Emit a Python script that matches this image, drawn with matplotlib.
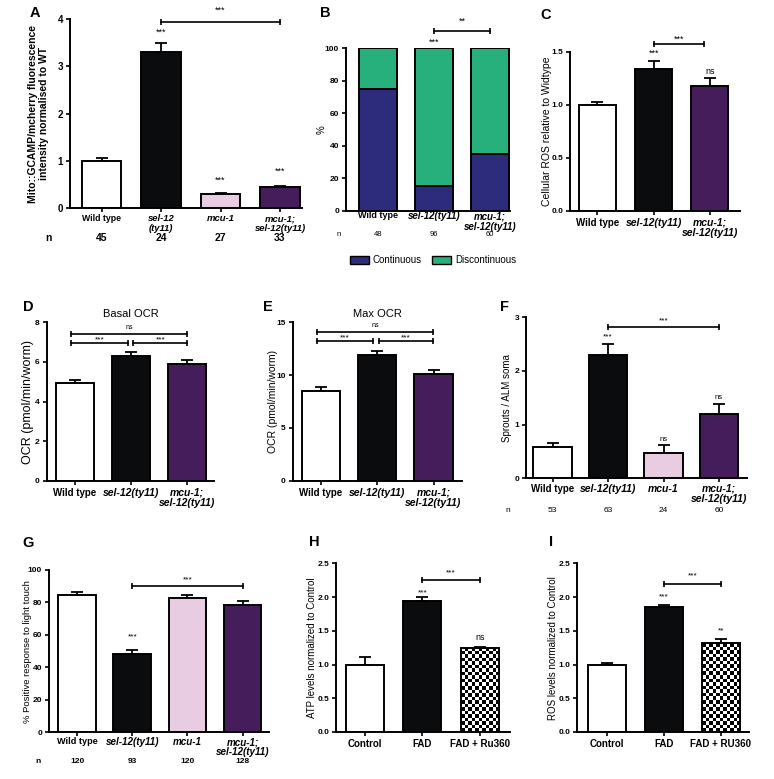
import matplotlib
matplotlib.use('Agg')
import matplotlib.pyplot as plt
import numpy as np
from matplotlib.patches import Patch

plt.rcParams['font.family'] = ['Liberation Sans', 'DejaVu Sans']
plt.rcParams['axes.linewidth'] = 1.4

W, H = 774, 779
fig = plt.figure(figsize=(W / 100, H / 100), dpi=100)

# ---------------- data ----------------
A_labels = ['Wild type', 'sel-12\n(ty11)', 'mcu-1', 'mcu-1;\nsel-12(ty11)']
A_values = [1.0, 3.3, 0.3, 0.45]
A_err = [0.06, 0.2, 0.02, 0.02]
A_n = [45, 24, 27, 33]

B_labels = ['Wild type', 'sel-12(ty11)', 'mcu-1;\nsel-12(ty11)']
B_continuous = [75, 15, 35]
B_discontinuous = [25, 85, 65]
B_n = [48, 96, 60]

C_labels = ['Wild type', 'sel-12(ty11)', 'mcu-1;\nsel-12(ty11)']
C_values = [1.0, 1.34, 1.18]
C_err = [0.03, 0.07, 0.07]

D_labels = ['Wild type', 'sel-12(ty11)', 'mcu-1;\nsel-12(ty11)']
D_values = [4.92, 6.31, 5.9]
D_err = [0.17, 0.17, 0.2]

E_labels = ['Wild type', 'sel-12(ty11)', 'mcu-1;\nsel-12(ty11)']
E_values = [8.52, 11.9, 10.07]
E_err = [0.32, 0.41, 0.41]

F_labels = ['Wild type', 'sel-12(ty11)', 'mcu-1', 'mcu-1;\nsel-12(ty11)']
F_values = [0.58, 2.3, 0.48, 1.19]
F_err = [0.07, 0.2, 0.14, 0.2]
F_n = [53, 63, 24, 60]

G_labels = ['Wild type', 'sel-12(ty11)', 'mcu-1', 'mcu-1;\nsel-12(ty11)']
G_values = [84.8, 48.2, 82.6, 78.6]
G_err = [1.8, 2.7, 1.8, 2.1]
G_n = [120, 93, 120, 128]

H_labels = ['Control', 'FAD', 'FAD + Ru360']
H_values = [1.0, 1.945, 1.245]
H_err = [0.115, 0.055, 0.01]

I_labels = ['Control', 'FAD', 'FAD + RU360']
I_values = [1.0, 1.857, 1.315]
I_err = [0.027, 0.03, 0.063]

# ---------------- style ----------------
WHITE = '#ffffff'
BLACK = '#0b0c0e'
PINK = '#e8cce2'
PURPLE = '#451d5b'
NAVY = '#2d2b7c'
GREEN = '#27b07b'
C4 = [WHITE, BLACK, PINK, PURPLE]
C3 = [WHITE, BLACK, PURPLE]
NARROW = ['Liberation Sans Narrow', 'Liberation Sans', 'DejaVu Sans']


def add_ax(l, t, r, b):
    return fig.add_axes([l / W, 1 - b / H, (r - l) / W, (b - t) / H])


def style(ax, labels, italic, xlim, ylim, yticks, yfmt, tfs=6.5, yfs=6.5,
          ticklen=3, pad=2, ls=1.05):
    ax.spines['top'].set_visible(False)
    ax.spines['right'].set_visible(False)
    ax.set_xlim(*xlim)
    ax.set_ylim(*ylim)
    ax.set_xticks(range(len(labels)))
    ax.set_xticklabels(labels, fontsize=tfs, fontweight='bold')
    for t, it in zip(ax.get_xticklabels(), italic):
        t.set_linespacing(ls)
        if it:
            t.set_style('italic')
            t.set_family(NARROW)
            t.set_fontsize(tfs + 0.5)
    ax.set_yticks(yticks)
    ax.set_yticklabels([yfmt.format(v) for v in yticks], fontsize=yfs,
                       fontweight='bold')
    ax.tick_params(axis='y', direction='out', length=3, width=1.2, pad=2)
    ax.tick_params(axis='x', direction='out', length=ticklen, width=1.2, pad=pad)


def bars(ax, values, errs, colors, width, capsize=4.5):
    x = np.arange(len(values))
    b = ax.bar(x, values, width=width, color=colors, edgecolor='black',
               linewidth=1.4, zorder=2)
    ax.errorbar(x, values, yerr=[np.zeros(len(errs)), errs], fmt='none',
                ecolor='black', elinewidth=1.3, capsize=capsize, capthick=1.3,
                zorder=1)
    return b


def bracket(ax, x0, x1, y, text, ty, fs=6.5):
    ax.plot([x0, x1], [y, y], color='black', lw=1.2, clip_on=False, zorder=3)
    ax.plot([x0, x1], [y, y], ls='none', marker='|', ms=5, mew=1.2,
            color='black', clip_on=False, zorder=3)
    ax.text((x0 + x1) / 2, ty, text, ha='center', va='center', fontsize=fs,
            clip_on=False)


def star(ax, x, y, text, fs=6.5):
    ax.text(x, y, text, ha='center', va='center', fontsize=fs, clip_on=False)


def ylab(ax, text, xfrac, fs=7, bold=False):
    ax.set_ylabel(text, fontsize=fs, fontweight='bold' if bold else 'normal',
                  va='center', ha='center', multialignment='center')
    ax.yaxis.set_label_coords(xfrac, 0.5)


def nrow(ax, ns, yfrac, xn, fs=7, bold=True):
    tr = ax.get_xaxis_transform()
    w = 'bold' if bold else 'normal'
    ax.text(xn, yfrac, 'n', transform=tr, ha='center', va='center',
            fontsize=fs, fontweight=w)
    for i, v in enumerate(ns):
        ax.text(i, yfrac, str(v), transform=tr, ha='center', va='center',
                fontsize=fs, fontweight=w)


def panel_label(x, y, s):
    fig.text(x / W, 1 - y / H, s, fontsize=10.5, fontweight='bold',
             ha='left', va='center')


def checker_bar(ax, x, h, width, nx, ny):
    b = ax.bar(x, h, width=width, color='white', edgecolor='none', zorder=2)[0]
    arr = (np.indices((ny, nx)).sum(axis=0) % 2).astype(float)
    im = ax.imshow(arr, cmap='gray', extent=(x - width / 2, x + width / 2, 0, h),
                   aspect='auto', interpolation='nearest', zorder=2.1,
                   origin='lower')
    im.set_clip_path(b)
    ax.bar(x, h, width=width, fill=False, edgecolor='black', linewidth=1.4,
           zorder=2.2)


# ---------------- Panel A ----------------
ax = add_ax(70, 19.3, 302, 208)
bars(ax, A_values, A_err, C4, 0.67)
style(ax, A_labels, [False, True, True, True], (-0.53, 3.37), (0, 4),
      [0, 1, 2, 3, 4], '{:g}', tfs=6.3, yfs=7, pad=1.5)
ylab(ax, 'Mito::GCAMP/mcherry fluorescence\nintensity normalised to WT', -0.135,
     fs=7.5, bold=True)
bracket(ax, 1, 3, 3.94, '***', 4.19)
star(ax, 1, 3.72, '***')
star(ax, 2, 0.59, '***')
star(ax, 3, 0.77, '***')
nrow(ax, A_n, -0.16, -0.9, fs=7.5)
panel_label(30, 13, 'A')

# ---------------- Panel B ----------------
ax = add_ax(346, 48.3, 510, 210.7)
x = np.arange(len(B_continuous))
ax.bar(x, B_continuous, width=0.68, color=NAVY, edgecolor='black', lw=1.4,
       zorder=2)
ax.bar(x, B_discontinuous, bottom=B_continuous, width=0.68, color=GREEN,
       edgecolor='black', lw=1.4, zorder=2)
style(ax, B_labels, [False, True, True], (-0.57, 2.36), (0, 100),
      [0, 20, 40, 60, 80, 100], '{:g}', tfs=6.5, yfs=6, ticklen=0, pad=0.5)
ylab(ax, '%', -0.146, fs=7)
bracket(ax, 1, 2, 110.8, '**', 116.4)
star(ax, 1, 103.5, '***')
nrow(ax, B_n, -0.148, -0.71, fs=5.5, bold=False)
handles = [Patch(facecolor=NAVY, edgecolor='black', label='Continuous'),
           Patch(facecolor=GREEN, edgecolor='black', label='Discontinuous')]
ax.legend(handles=handles, loc='center', bbox_to_anchor=(0.53, -0.305),
          ncol=2, frameon=False, fontsize=7, handlelength=2.0,
          handleheight=0.8, columnspacing=1.0, handletextpad=0.4,
          borderpad=0, borderaxespad=0)
panel_label(320, 13, 'B')

# ---------------- Panel C ----------------
ax = add_ax(570, 51.7, 740, 210.7)
bars(ax, C_values, C_err, C3, 0.67)
style(ax, C_labels, [False, True, True], (-0.49, 2.54), (0, 1.5),
      [0, 0.5, 1.0, 1.5], '{:.1f}', tfs=7, yfs=6)
ylab(ax, 'Cellular ROS relative to Widtype', -0.135, fs=7.5)
bracket(ax, 1, 1.9, 1.57, '***', 1.62)
star(ax, 1, 1.49, '***')
star(ax, 2, 1.31, 'ns', fs=6.5)
panel_label(540, 15, 'C')

# ---------------- Panel D ----------------
ax = add_ax(46.7, 322.3, 214.3, 480.7)
bars(ax, D_values, D_err, C3, 0.67)
style(ax, D_labels, [False, True, True], (-0.5, 2.48), (0, 8),
      [0, 2, 4, 6, 8], '{:g}', tfs=7, yfs=6)
ylab(ax, 'OCR (pmol/min/worm)', -0.11, fs=9)
ax.set_title('Basal OCR', fontsize=8, pad=4)
bracket(ax, -0.066, 2.0, 7.39, 'ns', 7.72, fs=5)
bracket(ax, -0.066, 0.95, 6.94, '***', 7.12, fs=6)
bracket(ax, 1.04, 2.0, 6.94, '***', 7.12, fs=6)
panel_label(22.5, 306.7, 'D')

# ---------------- Panel E ----------------
ax = add_ax(292.7, 322.3, 461.7, 480.7)
bars(ax, E_values, E_err, C3, 0.68)
style(ax, E_labels, [False, True, True], (-0.5, 2.5), (0, 15),
      [0, 5, 10, 15], '{:g}', tfs=7, yfs=6)
ylab(ax, 'OCR (pmol/min/worm)', -0.118, fs=7.5)
ax.set_title('Max OCR', fontsize=8, pad=4)
bracket(ax, -0.07, 1.99, 14.05, 'ns', 14.65, fs=5)
bracket(ax, -0.07, 0.93, 13.23, '***', 13.55, fs=6)
bracket(ax, 1.04, 1.99, 13.23, '***', 13.55, fs=6)
panel_label(263, 306.7, 'E')

# ---------------- Panel F ----------------
ax = add_ax(526, 317.3, 746.7, 478.3)
bars(ax, F_values, F_err, C4, 0.69)
style(ax, F_labels, [False, True, True, True], (-0.48, 3.5), (0, 3),
      [0, 1, 2, 3], '{:g}', tfs=7, yfs=6, pad=1)
ylab(ax, 'Sprouts / ALM soma', -0.086, fs=7)
bracket(ax, 1, 3, 2.81, '***', 2.94, fs=6)
star(ax, 1, 2.64, '***', fs=6)
star(ax, 2, 0.73, 'ns', fs=5.5)
star(ax, 3, 1.5, 'ns', fs=5.5)
nrow(ax, F_n, -0.2, -0.8, fs=6, bold=False)
panel_label(500, 306.7, 'F')

# ---------------- Panel G ----------------
ax = add_ax(49, 570, 269, 732.3)
bars(ax, G_values, G_err, C4, 0.685)
style(ax, G_labels, [False, True, True, True], (-0.51, 3.48), (0, 100),
      [0, 20, 40, 60, 80, 100], '{:g}', tfs=6.6, yfs=6, pad=0.5, ls=1.0)
ylab(ax, '% Positive response to light touch', -0.097, fs=6.8)
bracket(ax, 1, 3, 90.3, '***', 93.8, fs=6)
star(ax, 1, 58.5, '***', fs=6)
nrow(ax, G_n, -0.182, -0.71, fs=6, bold=True)
panel_label(22, 543, 'G')

# ---------------- Panel H ----------------
ax = add_ax(336, 563.3, 510, 732)
bars(ax, H_values[:2], H_err[:2], [WHITE, BLACK], 0.66)
checker_bar(ax, 2, H_values[2], 0.66, 11, 24)
ax.errorbar([2], [H_values[2]], yerr=[[0], [H_err[2]]], fmt='none',
            ecolor='black', elinewidth=1.3, capsize=4.5, capthick=1.3, zorder=1)
style(ax, H_labels, [False, False, False], (-0.5, 2.52), (0, 2.5),
      [0, 0.5, 1.0, 1.5, 2.0, 2.5], '{:.1f}', tfs=7, yfs=6)
ylab(ax, 'ATP levels normalized to Control', -0.14, fs=7)
bracket(ax, 1, 2, 2.25, '***', 2.36, fs=6)
star(ax, 1, 2.06, '***', fs=6)
star(ax, 2, 1.4, 'ns', fs=6.5)
panel_label(309, 542.5, 'H')

# ---------------- Panel I ----------------
ax = add_ax(577.3, 563.3, 749.3, 732)
bars(ax, I_values[:2], I_err[:2], [WHITE, BLACK], 0.67)
checker_bar(ax, 2, I_values[2], 0.67, 11, 25)
ax.errorbar([2], [I_values[2]], yerr=[[0], [I_err[2]]], fmt='none',
            ecolor='black', elinewidth=1.3, capsize=4.5, capthick=1.3, zorder=1)
style(ax, I_labels, [False, False, False], (-0.52, 2.5), (0, 2.5),
      [0, 0.5, 1.0, 1.5, 2.0, 2.5], '{:.1f}', tfs=7, yfs=6)
ylab(ax, 'ROS levels normalized to Control', -0.14, fs=7)
bracket(ax, 1, 2, 2.2, '***', 2.31, fs=6)
star(ax, 1, 2.0, '***', fs=6)
star(ax, 2, 1.5, '**', fs=6)
panel_label(549, 542, 'I')

fig.savefig('out.png', dpi=100, facecolor='white')
